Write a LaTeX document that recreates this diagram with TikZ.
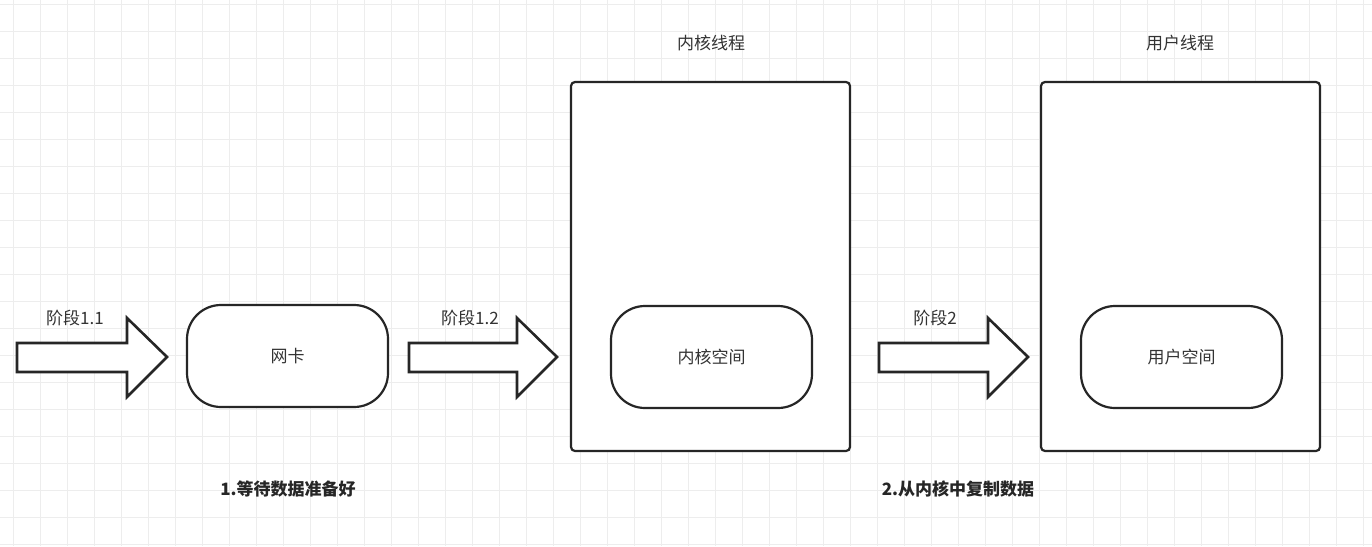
\documentclass[tikz,border=0pt]{standalone}
\usepackage{fontspec}
\setmainfont{Noto Sans CJK SC}
\begin{document}
\begin{tikzpicture}[x=1pt,y=-1pt,
  box/.style={draw=black!85,line width=2.2pt,rounded corners=4pt},
  pill/.style={draw=black!85,line width=2.2pt,rounded corners=34pt},
  bigarrow/.style={draw=black!85,line width=2.6pt,fill=white,line join=miter},
  lbl/.style={font=\fontsize{17}{20}\selectfont,text=black!80},
  blbl/.style={font=\fontsize{17}{20}\selectfont\bfseries,text=black!85}]
\useasboundingbox (0,0) rectangle (1372,546);
\fill[white] (0,0) rectangle (1372,546);
\foreach \i in {0,...,51} {\draw[black!7,line width=0.6pt] (\i*27+13,0) -- (\i*27+13,546);}
\foreach \j in {0,...,20} {\draw[black!7,line width=0.6pt] (0,\j*27+4) -- (1372,\j*27+4);}
% arrows
\draw[bigarrow] (17,343) -- (127,343) -- (127,318) -- (167,357) -- (127,397) -- (127,372) -- (17,372) -- cycle;
\draw[bigarrow] (409,343) -- (517,343) -- (517,318) -- (557,357) -- (517,397) -- (517,372) -- (409,372) -- cycle;
\draw[bigarrow] (879,343) -- (988,343) -- (988,318) -- (1028,357) -- (988,397) -- (988,372) -- (879,372) -- cycle;
% boxes
\draw[box,fill=white] (571,82) rectangle (850,451);
\draw[box,fill=white] (1041,82) rectangle (1320,451);
\draw[pill,fill=white] (187,305) rectangle (388,407);
\draw[pill,fill=white] (611,306) rectangle (812,408);
\draw[pill,fill=white] (1081,306) rectangle (1282,408);
\node[lbl] (n1) at (287.5,356) {网卡};
\node[lbl] (n2) at (711.5,357) {内核空间};
\node[lbl] (n3) at (1181.5,357) {用户空间};
\node[lbl] (t1) at (711,43) {内核线程};
\node[lbl] (t2) at (1180,43) {用户线程};
\node[lbl] (a1) at (75,318) {阶段1.1};
\node[lbl] (a2) at (470,318) {阶段1.2};
\node[lbl] (a3) at (935,318) {阶段2};
\node[blbl] (b1) at (288,489) {1.等待数据准备好};
\node[blbl] (b2) at (958,489) {2.从内核中复制数据};
\end{tikzpicture}
\end{document}
